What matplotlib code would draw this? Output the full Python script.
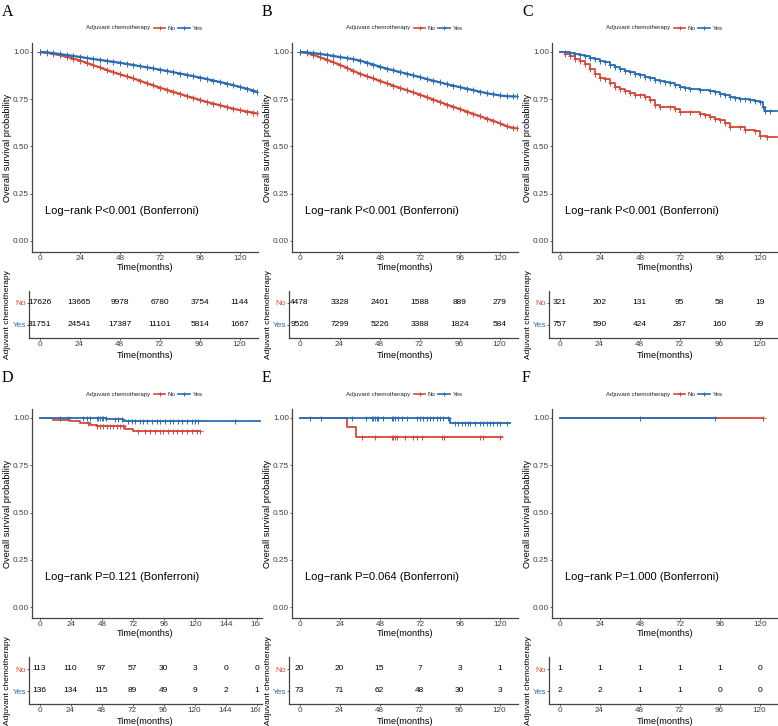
import numpy as np
import matplotlib
matplotlib.use("Agg")
import matplotlib.pyplot as plt
from matplotlib.lines import Line2D
from matplotlib.transforms import Bbox, TransformedBbox
from matplotlib import font_manager as fm

# ---------------- data ----------------
TICKS_120 = [0, 24, 48, 72, 96, 120]
TICKS_168 = [0, 24, 48, 72, 96, 120, 144, 168]

AB_T = [0, 4, 8, 12, 16, 20, 24, 28, 32, 36, 40, 44, 48, 52, 56, 60, 64, 68, 72, 76,
        80, 84, 88, 92, 96, 100, 104, 108, 112, 116, 120, 124, 128, 130]
A_NO_S = [1.0, 0.997, 0.99, 0.983, 0.975, 0.965, 0.955, 0.943, 0.93, 0.918, 0.905, 0.893,
          0.882, 0.871, 0.86, 0.848, 0.835, 0.823, 0.811, 0.80, 0.789, 0.778, 0.767, 0.757,
          0.746, 0.736, 0.727, 0.718, 0.709, 0.70, 0.692, 0.685, 0.679, 0.675]
A_YES_S = [1.0, 0.998, 0.994, 0.989, 0.984, 0.979, 0.974, 0.968, 0.963, 0.958, 0.953, 0.948,
           0.943, 0.937, 0.931, 0.925, 0.919, 0.913, 0.906, 0.90, 0.893, 0.886, 0.879, 0.872,
           0.865, 0.857, 0.849, 0.841, 0.833, 0.824, 0.815, 0.806, 0.796, 0.79]
B_NO_S = [1.0, 0.995, 0.985, 0.972, 0.96, 0.946, 0.932, 0.917, 0.90, 0.885, 0.872, 0.86,
          0.847, 0.834, 0.822, 0.81, 0.798, 0.786, 0.774, 0.761, 0.748, 0.735, 0.722, 0.71,
          0.698, 0.685, 0.672, 0.66, 0.648, 0.636, 0.622, 0.607, 0.598, 0.596]
B_YES_S = [1.0, 0.998, 0.994, 0.99, 0.985, 0.979, 0.973, 0.968, 0.962, 0.955, 0.944, 0.933,
           0.922, 0.912, 0.903, 0.894, 0.885, 0.876, 0.867, 0.857, 0.848, 0.839, 0.83, 0.822,
           0.814, 0.806, 0.798, 0.79, 0.782, 0.776, 0.77, 0.766, 0.765, 0.765]

C_NO_T = [0, 3, 6, 9, 12, 15, 18, 21, 24, 27, 30, 33, 36, 39, 42, 45, 48, 51, 54, 57, 60,
          66, 69, 72, 78, 84, 87, 90, 93, 96, 99, 102, 108, 111, 117, 120, 124, 130]
C_NO_S = [1.0, 0.99, 0.98, 0.965, 0.95, 0.935, 0.91, 0.885, 0.865, 0.855, 0.835, 0.815,
          0.805, 0.795, 0.785, 0.775, 0.77, 0.76, 0.745, 0.72, 0.71, 0.71, 0.70, 0.685,
          0.68, 0.67, 0.665, 0.655, 0.645, 0.64, 0.625, 0.605, 0.603, 0.585, 0.58, 0.553,
          0.55, 0.55]
C_YES_T = [0, 3, 6, 9, 12, 15, 18, 21, 24, 27, 30, 33, 36, 39, 42, 45, 48, 51, 54, 57, 60,
           63, 66, 69, 72, 75, 78, 84, 90, 93, 96, 99, 102, 105, 108, 111, 114, 117, 120,
           122, 123, 126, 130]
C_YES_S = [1.0, 0.998, 0.994, 0.99, 0.985, 0.977, 0.97, 0.962, 0.954, 0.945, 0.932, 0.92,
           0.91, 0.902, 0.895, 0.885, 0.877, 0.87, 0.862, 0.853, 0.847, 0.843, 0.835, 0.825,
           0.815, 0.807, 0.803, 0.80, 0.795, 0.788, 0.78, 0.77, 0.763, 0.757, 0.753, 0.75,
           0.748, 0.742, 0.738, 0.71, 0.69, 0.688, 0.688]

D_NO_T = [0, 10.3, 23.2, 31, 38.7, 43.9, 65.8, 72.3, 124]
D_NO_S = [1.0, 0.991, 0.982, 0.974, 0.965, 0.956, 0.942, 0.93, 0.93]
D_NO_CENS = [37.4, 44.4, 46.5, 49, 51.6, 54.2, 56.8, 59.4, 62, 64, 76.1, 81.3, 85.2, 89,
             92.9, 95.5, 99.4, 103.2, 105.8, 109.7, 113.5, 117.4, 121.3, 123.9]
D_YES_T = [0, 51.3, 64.5, 170]
D_YES_S = [1.0, 0.994, 0.982, 0.982]
D_YES_CENS = [15.5, 21.9, 33.5, 36.6, 38.7, 43.9, 45.2, 46.5, 47.8, 49, 51.1, 58, 60.6, 63.2,
              68.4, 71, 73.5, 77.4, 80, 82.6, 86.5, 90.3, 92.9, 96.8, 100.6, 103.2, 107.1,
              109.7, 113.5, 117.4, 120, 122.6, 150.9]

E_NO_T = [0, 28.4, 33.4, 121]
E_NO_S = [1.0, 0.95, 0.90, 0.90]
E_NO_CENS = [37, 45, 55, 56, 57, 58, 63, 68, 70.4, 73, 85, 86.4, 108, 110, 120]
E_YES_T = [0, 90, 126]
E_YES_S = [1.0, 0.974, 0.974]
E_YES_CENS = [6, 12.6, 31, 39.6, 43, 44, 45, 46, 47, 50, 55, 56, 57, 59, 61, 64, 70, 72, 74,
              76, 78, 80, 82, 84, 86, 89, 93, 95, 97, 99, 101, 102, 105, 108, 110, 112, 114,
              116, 118, 120, 124]

F_NO_T = [0, 122]
F_NO_S = [1.0, 1.0]
F_NO_CENS = [122]
F_YES_T = [0, 93]
F_YES_S = [1.0, 1.0]
F_YES_CENS = [48, 93]

RISK_A_NO = [17626, 13665, 9978, 6780, 3754, 1144]
RISK_A_YES = [31751, 24541, 17387, 11101, 5814, 1667]
RISK_B_NO = [4478, 3328, 2401, 1588, 889, 279]
RISK_B_YES = [9526, 7299, 5226, 3388, 1824, 584]
RISK_C_NO = [321, 202, 131, 95, 58, 19]
RISK_C_YES = [757, 590, 424, 287, 160, 39]
RISK_D_NO = [113, 110, 97, 57, 30, 3, 0, 0]
RISK_D_YES = [136, 134, 115, 89, 49, 9, 2, 1]
RISK_E_NO = [20, 20, 15, 7, 3, 1]
RISK_E_YES = [73, 71, 62, 48, 30, 3]
RISK_F_NO = [1, 1, 1, 1, 1, 0]
RISK_F_YES = [2, 2, 1, 1, 0, 0]

P_TEXT = {"A": "Log\u2212rank P<0.001 (Bonferroni)",
          "B": "Log\u2212rank P<0.001 (Bonferroni)",
          "C": "Log\u2212rank P<0.001 (Bonferroni)",
          "D": "Log\u2212rank P=0.121 (Bonferroni)",
          "E": "Log\u2212rank P=0.064 (Bonferroni)",
          "F": "Log\u2212rank P=1.000 (Bonferroni)"}
GROUPS = ["No", "Yes"]
LEGEND_TITLE = "Adjuvant chemotherapy"

RED = "#D6493A"
BLUE = "#2A6DB2"
AXC = "#444444"
TXC = "#404040"

# ---------------- fonts ----------------
names = {f.name for f in fm.fontManager.ttflist}
SANS = [n for n in ["Liberation Sans Narrow", "Liberation Sans", "DejaVu Sans"] if n in names]
plt.rcParams["font.family"] = SANS
SERIF = ["Liberation Serif", "DejaVu Serif"]

FS_TICK = 5.9
FS_LAB = 6.6
FS_RISK = 6.0
FS_P = 8.0
FS_LEG = 4.4
FS_TYLAB = 6.0

W, H = 778, 726
fig = plt.figure(figsize=(W / 100, H / 100), dpi=100)


def fx(x):
    return x / W


def fy(y):
    return 1 - y / H


def style_axes(ax):
    for s in ["top", "right"]:
        ax.spines[s].set_visible(False)
    for s in ["left", "bottom"]:
        ax.spines[s].set_color(AXC)
        ax.spines[s].set_linewidth(0.9)
    ax.tick_params(length=1.6, width=0.6, color=AXC, pad=0.5, labelsize=FS_TICK,
                   labelcolor=TXC)
    ax.patch.set_alpha(0)


def step_y(t, s, ct):
    t = np.asarray(t)
    s = np.asarray(s)
    idx = np.searchsorted(t, np.asarray(ct), side="right") - 1
    return s[idx]


def draw_panel(ox, oy, letter, curves, ticks, pxpm, risk_no, risk_yes, right_px=258):
    clip = None
    if right_px > 258:
        clip = TransformedBbox(Bbox([[0, 0], [fx(ox + 260), 1]]), fig.transFigure)
    # main axes
    ax = fig.add_axes([fx(ox + 32), fy(oy + 252), (right_px - 32) / W, 209 / H])
    ax.set_xlim((32 - 40) / pxpm, (right_px - 40) / pxpm)
    ax.set_ylim(-11 / 189, 1 + 9 / 189)
    style_axes(ax)
    ax.set_xticks(ticks)
    ax.set_xticklabels([str(v) for v in ticks])
    ax.set_yticks([0, 0.25, 0.5, 0.75, 1.0])
    ax.set_yticklabels(["0.00", "0.25", "0.50", "0.75", "1.00"])
    for (t, s, cens, color, kind) in curves:
        if kind == "line":
            ax.plot(t, s, color=color, lw=1.6, marker="+", ms=3.8, mew=0.7,
                    solid_capstyle="butt")
        else:
            ax.step(t, s, where="post", color=color, lw=1.3)
            ax.plot(cens, step_y(t, s, cens), ls="none", marker="+", ms=3.6, mew=0.7,
                    color=color)
    ax.text((45 - 32) / 226, (252 - 211) / 209, P_TEXT[letter], transform=ax.transAxes,
            fontsize=FS_P, color="black", va="center", ha="left")
    fig.text(fx(ox + 145), fy(oy + 267.5), "Time(months)", fontsize=FS_LAB,
             ha="center", va="center")
    fig.text(fx(ox + 8), fy(oy + 147.5), "Overall survival probability", fontsize=FS_LAB,
             rotation=90, ha="center", va="center")
    fig.text(fx(ox + 2), fy(oy + 15.5), letter, family=SERIF, fontsize=11.5,
             ha="left", va="baseline")
    # legend
    ly = oy + 28
    fig.text(fx(ox + 86), fy(ly), LEGEND_TITLE, fontsize=FS_LEG, ha="left", va="center",
             color="#222222")
    for (x0, x1, xt, lab, col) in [(154, 165, 167, GROUPS[0], RED),
                                   (178, 190, 193, GROUPS[1], BLUE)]:
        fig.add_artist(Line2D([fx(ox + x0), fx(ox + x1)], [fy(ly), fy(ly)],
                              transform=fig.transFigure, color=col, lw=1.2))
        fig.add_artist(Line2D([fx(ox + (x0 + x1) / 2)], [fy(ly)], transform=fig.transFigure,
                              color=col, marker="+", ms=3.2, mew=0.7, ls="none"))
        fig.text(fx(ox + xt), fy(ly), lab, fontsize=FS_LEG, ha="left", va="center",
                 color="#222222")
    # risk table
    tx0 = 29.3
    tax = fig.add_axes([fx(ox + tx0), fy(oy + 338), (right_px - tx0) / W, 47 / H])
    tax.set_xlim((tx0 - 39.5) / pxpm, (right_px - 39.5) / pxpm)
    tax.set_ylim(1 - 13 / 22, 2 + 12 / 22)
    style_axes(tax)
    tax.set_xticks(ticks)
    tax.set_xticklabels([str(v) for v in ticks])
    tax.set_yticks([1, 2])
    tax.set_yticklabels([GROUPS[1], GROUPS[0]])
    tax.tick_params(axis="y", labelsize=FS_RISK)
    tax.get_yticklabels()[0].set_color(BLUE)
    tax.get_yticklabels()[1].set_color(RED)
    texts = []
    for tt, n in zip(ticks, risk_no):
        texts.append(tax.text(tt, 2, str(n), ha="center", va="center", fontsize=FS_RISK,
                              color="black"))
    for tt, n in zip(ticks, risk_yes):
        texts.append(tax.text(tt, 1, str(n), ha="center", va="center", fontsize=FS_RISK,
                              color="black"))
    fig.text(fx(ox + 145), fy(oy + 355), "Time(months)", fontsize=FS_LAB,
             ha="center", va="center")
    fig.text(fx(ox + 8), fy(oy + 315), LEGEND_TITLE, fontsize=FS_TYLAB,
             rotation=90, ha="center", va="center")
    if clip is not None:
        for a in (ax, tax):
            for lbl in a.get_xticklabels():
                lbl.set_clip_box(clip)
                lbl.set_clip_on(True)
        for tx in texts:
            tx.set_clip_box(clip)
            tx.set_clip_on(True)
            tx.set_clip_path(None)


P1 = 1.667
P2 = 1.2917

draw_panel(0, 0, "A",
           [(AB_T, A_NO_S, None, RED, "line"), (AB_T, A_YES_S, None, BLUE, "line")],
           TICKS_120, P1, RISK_A_NO, RISK_A_YES)
draw_panel(260, 0, "B",
           [(AB_T, B_NO_S, None, RED, "line"), (AB_T, B_YES_S, None, BLUE, "line")],
           TICKS_120, P1, RISK_B_NO, RISK_B_YES)
draw_panel(520, 0, "C",
           [(C_NO_T, C_NO_S, C_NO_T[1:-1], RED, "step"),
            (C_YES_T, C_YES_S, C_YES_T[1:-1], BLUE, "step")],
           TICKS_120, P1, RISK_C_NO, RISK_C_YES)
draw_panel(0, 366, "D",
           [(D_NO_T, D_NO_S, D_NO_CENS, RED, "step"),
            (D_YES_T, D_YES_S, D_YES_CENS, BLUE, "step")],
           TICKS_168, P2, RISK_D_NO, RISK_D_YES, right_px=262)
draw_panel(260, 366, "E",
           [(E_NO_T, E_NO_S, E_NO_CENS, RED, "step"),
            (E_YES_T, E_YES_S, E_YES_CENS, BLUE, "step")],
           TICKS_120, P1, RISK_E_NO, RISK_E_YES)
draw_panel(520, 366, "F",
           [(F_NO_T, F_NO_S, F_NO_CENS, RED, "step"),
            (F_YES_T, F_YES_S, F_YES_CENS, BLUE, "step")],
           TICKS_120, P1, RISK_F_NO, RISK_F_YES)

fig.savefig("out.png", dpi=100)
